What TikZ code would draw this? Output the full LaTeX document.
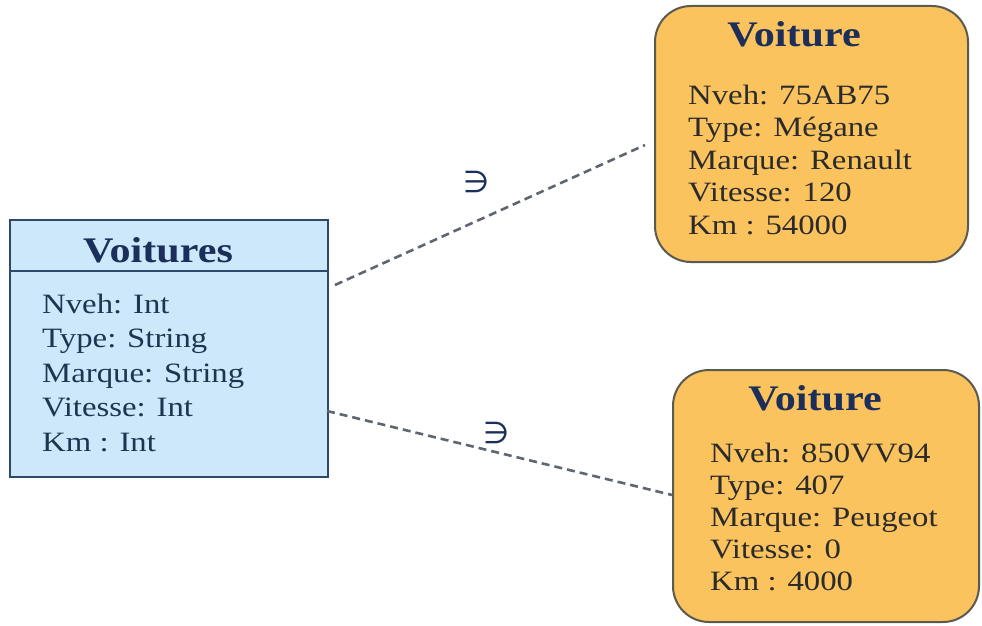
\documentclass[tikz,border=0pt]{standalone}
\usepackage{fontspec}
\setmainfont[FakeStretch=1.17]{Liberation Serif}
\newfontfamily\symfam{DejaVu Sans}
\definecolor{classfill}{HTML}{CDE8FA}
\definecolor{classdraw}{HTML}{2E4A68}
\definecolor{navy}{HTML}{1B2F5A}
\definecolor{clstxt}{HTML}{1E3450}
\definecolor{objfill}{HTML}{FAC35E}
\definecolor{objdraw}{HTML}{5A5A50}
\definecolor{objtxt}{HTML}{2B2B2B}
\definecolor{dashcol}{HTML}{5F6670}
\tikzset{
  classbox/.style={draw=classdraw, fill=classfill, line width=2pt, inner sep=0pt},
  objbox/.style={draw=objdraw, fill=objfill, line width=2pt, rounded corners=36pt, inner sep=0pt},
  head/.style={anchor=base, inner sep=0pt, text=navy, font=\fontsize{36}{40}\selectfont\bfseries},
  attr/.style={anchor=base west, inner sep=0pt, font=\fontsize{28}{32}\selectfont},
  clsattr/.style={attr, text=clstxt},
  objattr/.style={attr, text=objtxt},
  link/.style={draw=dashcol, line width=2.6pt, dash pattern=on 8pt off 5pt},
  member/.style={inner sep=0pt, text=navy, font=\symfam\fontsize{30}{32}\selectfont}
}
\begin{document}
\begin{tikzpicture}[x=1pt,y=-1pt]
\useasboundingbox (0,0) rectangle (982,626);
% class box
\node[classbox, minimum width=318pt, minimum height=257pt] (cls) at (169,348.5) {};
\coordinate (sepL) at (10,271);
\coordinate (sepR) at (328,271);
\draw[classdraw, line width=2pt] (sepL) -- (sepR);
\node[head] (clsh) at (158,262) {Voitures};
\node[clsattr] (ca1) at (42,313) {Nveh: Int};
\node[clsattr] (ca2) at (42,347.5) {Type: String};
\node[clsattr] (ca3) at (42,382) {Marque: String};
\node[clsattr] (ca4) at (42,416.5) {Vitesse: Int};
\node[clsattr] (ca5) at (42,451) {Km : Int};
% object 1
\node[objbox, minimum width=313pt, minimum height=256pt] (o1) at (811.5,134) {};
\node[head] (o1h) at (794,47) {Voiture};
\node[objattr] (o1a1) at (688,104) {Nveh: 75AB75};
\node[objattr] (o1a2) at (688,136.5) {Type: Mégane};
\node[objattr] (o1a3) at (688,169) {Marque: Renault};
\node[objattr] (o1a4) at (688,201.5) {Vitesse: 120};
\node[objattr] (o1a5) at (688,234) {Km : 54000};
% object 2
\node[objbox, minimum width=306pt, minimum height=252pt] (o2) at (826,496) {};
\node[head] (o2h) at (815,410) {Voiture};
\node[objattr] (o2a1) at (710,462) {Nveh: 850VV94};
\node[objattr] (o2a2) at (710,494) {Type: 407};
\node[objattr] (o2a3) at (710,526) {Marque: Peugeot};
\node[objattr] (o2a4) at (710,558) {Vitesse: 0};
\node[objattr] (o2a5) at (710,590) {Km : 4000};
% links
\coordinate (l1s) at (335,285);
\coordinate (l1e) at (645,145);
\coordinate (l2s) at (327,411);
\coordinate (l2e) at (672,495);
\draw[link] (l1s) -- (l1e);
\draw[link] (l2s) -- (l2e);
\node[member] (m1) at (477,182) {∋};
\node[member] (m2) at (497,433) {∋};
\end{tikzpicture}
\end{document}
